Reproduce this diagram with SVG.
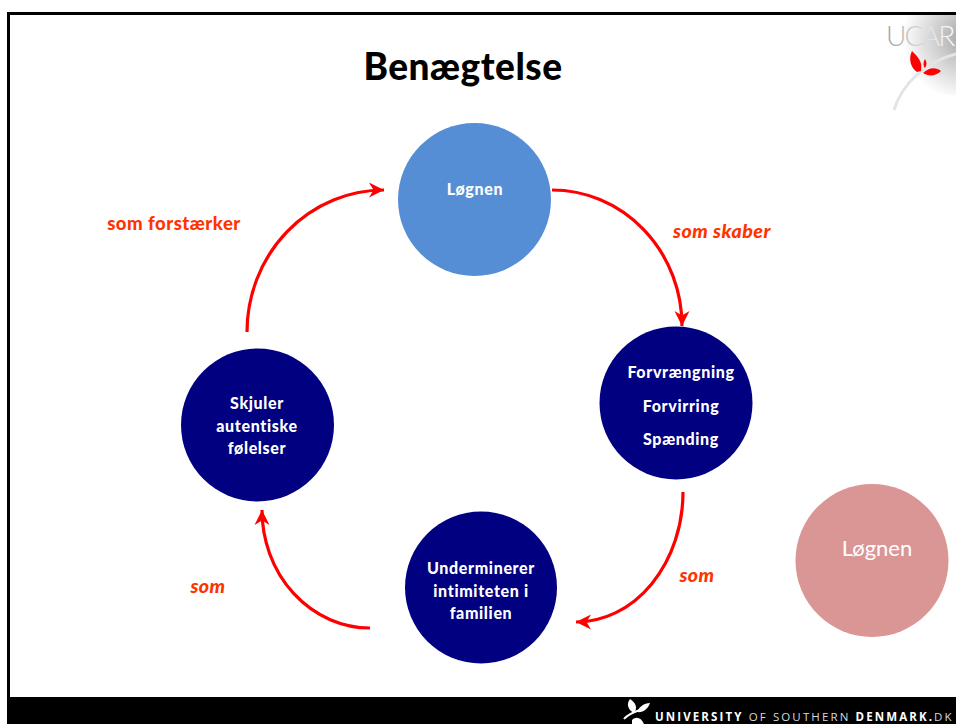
<svg xmlns="http://www.w3.org/2000/svg" width="956" height="724" viewBox="0 0 956 724">
<style>
.n{fill:#fff;font:900 16px Lato,"Liberation Sans",sans-serif;letter-spacing:.65px;text-anchor:middle}
.l{fill:#ff3300;font:italic 900 19.500px Lato,"Liberation Sans",sans-serif;letter-spacing:.5px;text-anchor:middle}
.f{fill:#ff3300;font:900 18.500px Lato,"Liberation Sans",sans-serif;letter-spacing:.5px;text-anchor:middle}
.c{fill:none;stroke:#ff0000;stroke-width:3.200;marker-end:url(#a)}
.navy{fill:#000080}
.leaf{fill:#ff0000}
.w{fill:#fff}
</style>
<defs>
<marker id="a" markerUnits="userSpaceOnUse" markerWidth="18" markerHeight="18" refX="15" refY="9" orient="auto">
<path d="M0 1.500L15 9L0 16.500L4.500 9Z" fill="#ff0000"/>
</marker>
<radialGradient id="g" gradientUnits="userSpaceOnUse" cx="964" cy="38" r="62">
<stop offset="0" stop-color="#a4a4a4"/><stop offset=".45" stop-color="#cfcfcf"/><stop offset="1" stop-color="#fff"/>
</radialGradient>
<linearGradient id="t" x1="0" y1="0" x2="1" y2="0">
<stop offset="0" stop-color="#a0a0a0"/><stop offset=".45" stop-color="#d0d0d0"/><stop offset="1" stop-color="#ffffff"/>
</linearGradient>
</defs>
<rect width="956" height="724" fill="#fff"/>
<rect x="895" y="15" width="61" height="80" fill="url(#g)"/>
<path d="M8.500 697V13.500H956" fill="none" stroke="#000" stroke-width="3"/>
<rect x="7" y="697" width="949" height="27" fill="#000"/>
<g id="logo-ucar">
<text x="886" y="46" font-family="Lato,'Liberation Sans',sans-serif" font-weight="300" font-size="28" letter-spacing="-1.800" fill="url(#t)">UCAR</text>
<path d="M894 110C902 84 925 62 956 54" fill="none" stroke="#e4e4e4" stroke-width="3"/>
<path class="leaf" d="M912 51C917 56 923 61 921 71L917 72C911 68 908 59 912 51ZM925 59C927 62 927 65 925 68C923 66 923 62 925 59ZM923 73C929 67 936 67 941 71C936 76 929 77 923 73Z"/>
</g>
<text id="title" x="463" y="80" font-family="Lato,'Liberation Sans',sans-serif" font-size="37" font-weight="900" letter-spacing=".5" text-anchor="middle">Benægtelse</text>
<g id="connectors">
<path class="c" d="M552 190A130 136 0 0 1 682 326"/>
<path class="c" d="M683 492A107 130 0 0 1 576 622"/>
<path class="c" d="M370 628A108 118 0 0 1 262 510"/>
<path class="c" d="M247 332A137 142 0 0 1 384 190"/>
</g>
<g id="node-loegnen">
<circle cx="474.500" cy="199.500" r="76.500" fill="#558ed5"/>
<text class="n" x="475" y="195">Løgnen</text>
</g>
<g id="node-forvraengning">
<circle class="navy" cx="676" cy="403" r="76.500"/>
<text class="n" x="681" y="378">Forvrængning</text>
<text class="n" x="681" y="412">Forvirring</text>
<text class="n" x="681" y="445">Spænding</text>
</g>
<g id="node-underminerer">
<circle class="navy" cx="481" cy="587.500" r="76"/>
<text class="n" x="481" y="574">Underminerer</text>
<text class="n" x="481" y="597">intimiteten i</text>
<text class="n" x="481" y="619">familien</text>
</g>
<g id="node-skjuler">
<circle class="navy" cx="257.500" cy="425" r="76.500"/>
<text class="n" x="257" y="409">Skjuler</text>
<text class="n" x="257" y="432">autentiske</text>
<text class="n" x="257" y="454">følelser</text>
</g>
<g id="node-loegnen-2">
<circle cx="872" cy="560.500" r="76.500" fill="#d99694"/>
<text x="877" y="556" font-family="Lato,'Liberation Sans',sans-serif" font-size="22" fill="#fff" text-anchor="middle">Løgnen</text>
</g>
<text class="f" x="174" y="230">som forstærker</text>
<text class="l" x="722" y="238">som skaber</text>
<text class="l" x="697" y="582">som</text>
<text class="l" x="208" y="593">som</text>
<g id="logo-sdu">
<path class="w" d="M630 699C636 703 638 708 634 713C628 710 626 704 630 699ZM637 712C639 707 644 703 650 703C648 709 643 713 637 712ZM632 720C636 716 641 717 644 724H632Z"/>
<path d="M624 719C628 714 634 712 640 710" fill="none" stroke="#fff" stroke-width="2"/>
<text x="655" y="721" font-family="'Open Sans','Liberation Sans',sans-serif" font-size="11.500" letter-spacing="2.120" fill="#fff"><tspan font-weight="bold">UNIVERSITY</tspan><tspan fill="#d8d8d8"> OF SOUTHERN </tspan><tspan font-weight="bold">DENMARK.</tspan><tspan fill="#d8d8d8">DK</tspan></text>
</g>
</svg>
